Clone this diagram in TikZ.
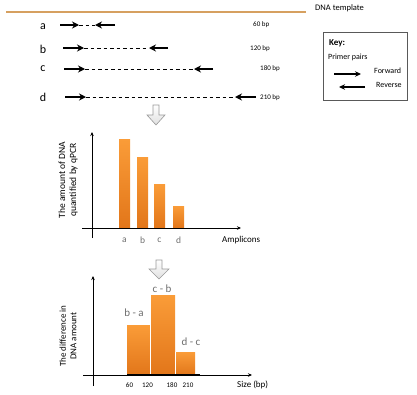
\documentclass[tikz,border=0pt]{standalone}
\usepackage{fontspec}
\setmainfont{Carlito}
\usetikzlibrary{arrows.meta}
\definecolor{tan}{RGB}{214,160,96}
\definecolor{barlight}{RGB}{250,156,56}
\definecolor{bardark}{RGB}{226,118,26}
\definecolor{lbl}{RGB}{110,110,110}
\tikzset{
  primer/.style={line width=1.4pt,-{Stealth[length=7pt,width=7pt]}},
  gap/.style={line width=0.9pt,dash pattern=on 3.5pt off 3pt},
  bplabel/.style={font=\fontsize{7}{8}\selectfont,anchor=west,inner sep=0},
  rowlabel/.style={font=\fontsize{12}{13}\selectfont},
  bar/.style={top color=barlight,bottom color=bardark,draw=none},
  axis/.style={line width=0.7pt,-{Stealth[length=4pt,width=3.5pt]}},
  small/.style={font=\fontsize{9}{10}\selectfont},
  keytext/.style={font=\fontsize{8}{9}\selectfont,anchor=west,inner sep=0},
  glabel/.style={text=lbl,font=\fontsize{11}{12}\selectfont},
  xlbl/.style={text=lbl,font=\fontsize{9.5}{10}\selectfont},
  tick/.style={font=\fontsize{7}{8}\selectfont},
  ylabel/.style={rotate=90,align=center,inner sep=0},
  blockarrow/.style={draw=gray!80,line width=0.6pt,top color=white,bottom color=gray!25},
}
\begin{document}
\begin{tikzpicture}[x=1pt,y=-1pt]
\useasboundingbox (0,0) rectangle (417,394);
% DNA template
\coordinate (t1) at (6,12);
\coordinate (t2) at (306,12);
\draw[tan,line width=2.2pt] (t1) -- (t2);
\node[small,anchor=west,inner sep=0,font=\fontsize{8.5}{9}\selectfont] (tmpl) at (315,8) {DNA template};
% rows
\node[rowlabel] (la) at (43,27) {a};
\node[rowlabel] (lb) at (43,49) {b};
\node[rowlabel] (lc) at (43,69) {c};
\node[rowlabel] (ld) at (43,97) {d};
% a
\coordinate (a1) at (60,25); \coordinate (a2) at (79,25);
\coordinate (a3) at (115,25); \coordinate (a4) at (95,25);
\draw[primer] (a1) -- (a2);
\draw[gap] (a2) -- (a4);
\draw[primer] (a3) -- (a4);
\node[bplabel] (ba) at (253,25) {60 bp};
% b
\coordinate (b1) at (63,48); \coordinate (b2) at (84,48);
\coordinate (b3) at (168,48); \coordinate (b4) at (149,48);
\draw[primer] (b1) -- (b2);
\draw[gap] (b2) -- (b4);
\draw[primer] (b3) -- (b4);
\node[bplabel] (bb) at (250,49) {120 bp};
% c
\coordinate (c1) at (64,69); \coordinate (c2) at (85,69);
\coordinate (c3) at (213,69); \coordinate (c4) at (194,69);
\draw[primer] (c1) -- (c2);
\draw[gap] (c2) -- (c4);
\draw[primer] (c3) -- (c4);
\node[bplabel] (bc) at (260,69) {180 bp};
% d
\coordinate (d1) at (65,97); \coordinate (d2) at (86,97);
\coordinate (d3) at (256,97); \coordinate (d4) at (235,97);
\draw[primer] (d1) -- (d2);
\draw[gap] (d2) -- (d4);
\draw[primer] (d3) -- (d4);
\node[bplabel] (bd) at (260,98) {210 bp};
% key
\node[draw=gray!70!black,line width=0.8pt,minimum width=84pt,minimum height=68pt,anchor=north west] (key) at (323,32) {};
\node[keytext,font=\bfseries\fontsize{9}{10}\selectfont] (keyt) at (329,43) {Key:};
\node[keytext] (pp) at (328,57) {Primer pairs};
\coordinate (f1) at (334,74); \coordinate (f2) at (361,74);
\draw[primer,line width=1.2pt,-{Stealth[length=6pt,width=5.5pt]}] (f1) -- (f2);
\node[keytext] (fw) at (374,71) {Forward};
\coordinate (r1) at (365,87); \coordinate (r2) at (339,87);
\draw[primer,line width=1.2pt,-{Stealth[length=6pt,width=5.5pt]}] (r1) -- (r2);
\node[keytext] (rv) at (376,85) {Reverse};
% block arrow 1
\draw[blockarrow] (153,105) -- (159,105) -- (159,115) -- (165,115) -- (156,125) -- (147,115) -- (153,115) -- cycle;
% chart 1
\coordinate (y1b) at (92,238); \coordinate (y1t) at (92,132);
\coordinate (x1l) at (82,228); \coordinate (x1r) at (241,228);
\fill[bar] (119,139) rectangle (130,228);
\fill[bar] (137,157) rectangle (148,228);
\fill[bar] (154,184) rectangle (165,228);
\fill[bar] (173,206) rectangle (184,228);
\draw[axis] (y1b) -- (y1t);
\draw[axis] (x1l) -- (x1r);
\node[xlbl] (xa) at (124.5,240) {a};
\node[xlbl] (xb) at (142.5,240) {b};
\node[xlbl] (xc) at (159.5,240) {c};
\node[xlbl] (xd) at (178.5,240) {d};
\node[small,anchor=west,inner sep=0] (amp) at (222,240) {Amplicons};
\node[ylabel,font=\fontsize{9.5}{11}\selectfont] (ylab1) at (68,180) {The amount of DNA\\quantified by qPCR};
% block arrow 2
\draw[blockarrow] (156,260) -- (162,260) -- (162,269) -- (169,269) -- (159,279) -- (149,269) -- (156,269) -- cycle;
% chart 2
\coordinate (y2b) at (93,386); \coordinate (y2t) at (93,276);
\coordinate (x2l) at (83,375); \coordinate (x2r) at (252,375);
\fill[bar] (127,325) rectangle (150,375);
\fill[bar] (150.5,295) rectangle (175,375);
\fill[bar] (175.5,352) rectangle (195,375);
\draw[white,line width=0.4pt] (150.2,295) -- (150.2,375) (175.2,352) -- (175.2,375);
\draw[axis] (y2b) -- (y2t);
\draw[axis] (x2l) -- (x2r);
\draw[line width=1.6pt] (127,375) -- (200,375);
\node[glabel] (dba) at (134,313) {b - a};
\node[glabel] (dcb) at (162,289) {c - b};
\node[glabel] (ddc) at (191,342) {d - c};
\node[tick] (t60) at (129.5,385) {60};
\node[tick] (t120) at (147.5,385) {120};
\node[tick] (t180) at (172,385) {180};
\node[tick] (t210) at (188,385) {210};
\node[small,anchor=west,inner sep=0] (size) at (237,385) {Size (bp)};
\node[ylabel,font=\fontsize{9}{10.5}\selectfont] (ylab2) at (68,336) {The difference in\\DNA amount};
\end{tikzpicture}
\end{document}
